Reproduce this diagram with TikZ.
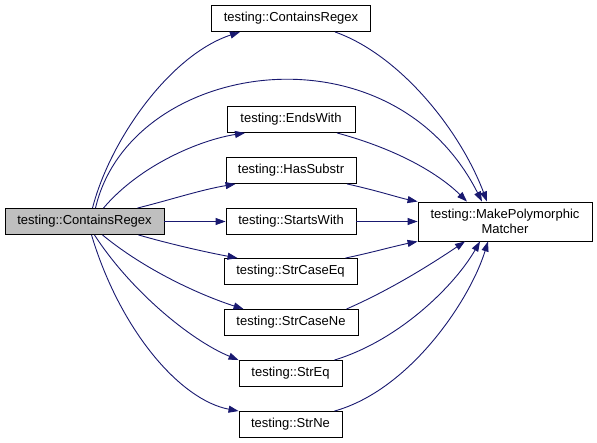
\documentclass[tikz,border=0pt]{standalone}
\usepackage{fontspec}
\setmainfont{Liberation Sans}
\usepackage{tikz}
\usetikzlibrary{arrows.meta}
\definecolor{edgeblue}{HTML}{191970}
\definecolor{maingray}{HTML}{BFBFBF}
\tikzset{
	fnbox/.style={draw=black, fill=white, line width=0.9pt, minimum height=26pt, inner sep=0pt, align=center, font=\fontsize{13}{15}\selectfont},
	call/.style={draw=edgeblue, line width=0.9pt, -{Triangle[length=10pt,width=7pt]}}
}
\begin{document}
\begin{tikzpicture}[x=1pt,y=-1pt]
					\useasboundingbox (0,0) rectangle (597,443);
					%Nodes
					\node[fnbox, fill=maingray, minimum width=159pt] (main) 	at (84.5,221.5) 	{testing::ContainsRegex};
					\node[fnbox, minimum width=159pt] (cr) 	at (291,18.5) 	{testing::ContainsRegex};
					\node[fnbox, minimum width=128pt] (ew) 	at (291,119.5) 	{testing::EndsWith};
					\node[fnbox, minimum width=130pt] (hs) 	at (291,170.5) 	{testing::HasSubstr};
					\node[fnbox, minimum width=130pt] (sw) 	at (291,221.5) 	{testing::StartsWith};
					\node[fnbox, minimum width=133pt] (sceq) 	at (290.5,271.5) 	{testing::StrCaseEq};
					\node[fnbox, minimum width=134pt] (scne) 	at (291,322.5) 	{testing::StrCaseNe};
					\node[fnbox, minimum width=103pt] (streq) 	at (290.5,373.5) 	{testing::StrEq};
					\node[fnbox, minimum width=103pt] (strne) 	at (290.5,424.5) 	{testing::StrNe};
					\node[fnbox, minimum width=174pt, minimum height=39pt] (mpm) 	at (505,221.5) 	{testing::MakePolymorphic\\Matcher};

					%Lines from the caller
					\draw[call] ([xshift=8pt]main.north) .. controls (110,140) and (170,55) .. ([xshift=-51pt]cr.south);
					\draw[call] ([xshift=11pt]main.north) .. controls (130,60) and (390,20) .. ([xshift=-23pt]mpm.north);
					\draw[call] ([xshift=19pt]main.north) .. controls (140,165) and (200,140) .. ([xshift=-46pt]ew.south);
					\draw[call] ([xshift=-27pt]main.north east) .. controls (170,200) and (200,190) .. ([xshift=10pt]hs.south west);
					\draw[call] (main.east) -- (sw.west);
					\draw[call] ([xshift=-26pt]main.south east) .. controls (170,244) and (205,252) .. ([xshift=14pt]sceq.north west);
					\draw[call] ([xshift=18pt]main.south) .. controls (145,270) and (200,295) .. ([xshift=20pt]scne.north west);
					\draw[call] ([xshift=10pt]main.south) .. controls (130,290) and (190,340) .. ([xshift=0pt]streq.north west);
					\draw[call] ([xshift=7pt]main.south) .. controls (120,330) and (180,400) .. ([xshift=0pt]strne.north west);

					%Lines to the matcher
					\draw[call] ([xshift=44pt]cr.south) .. controls (400,55) and (460,130) .. ([xshift=-18pt]mpm.north);
					\draw[call] ([xshift=46pt]ew.south) .. controls (400,150) and (440,175) .. ([xshift=-38pt]mpm.north);
					\draw[call] ([xshift=56pt]hs.south) .. controls (375,190) and (400,198) .. (mpm.north west);
					\draw[call] (sw.east) -- (mpm.west);
					\draw[call] ([xshift=-12pt]sceq.north east) .. controls (370,253) and (395,246) .. (mpm.south west);
					\draw[call] ([xshift=-12pt]scne.north east) .. controls (390,290) and (430,265) .. ([xshift=-40pt]mpm.south);
					\draw[call] ([xshift=-8pt]streq.north east) .. controls (400,340) and (455,285) .. ([xshift=-25pt]mpm.south);
					\draw[call] ([xshift=-8pt]strne.north east) .. controls (410,390) and (470,300) .. ([xshift=-17pt]mpm.south);
\end{tikzpicture}
\end{document}
